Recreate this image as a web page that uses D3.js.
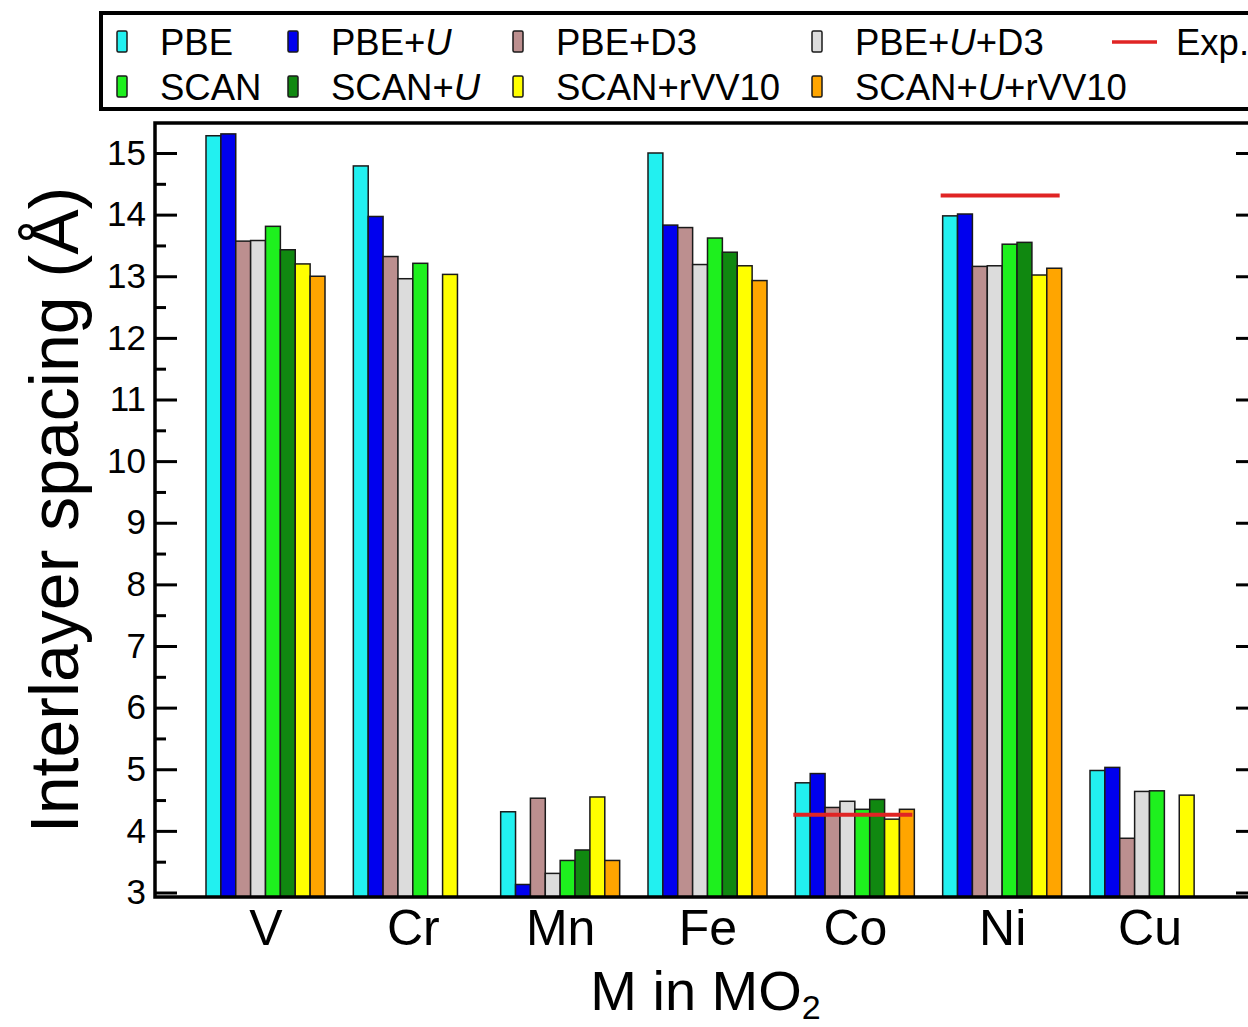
<!DOCTYPE html>
<html>
<head>
<meta charset="utf-8">
<script src="https://cdn.jsdelivr.net/npm/d3@7"></script>
<style>
  body { margin: 0; background: #fff; }
  svg { display: block; font-family: "Liberation Sans", Arial, Helvetica, sans-serif; }
</style>
</head>
<body>
<div id="chart"></div>
<script>
// categories and series (interlayer spacing, Angstrom)
var categories = ["V", "Cr", "Mn", "Fe", "Co", "Ni", "Cu"];
var seriesNames = ["PBE", "PBE+U", "PBE+D3", "PBE+U+D3", "SCAN", "SCAN+U", "SCAN+rVV10", "SCAN+U+rVV10"];
var pbe      = [15.28, 14.79, 4.31, 15.00, 4.78, 13.98, 4.98];
var pbeU     = [15.31, 13.97, 3.13, 13.83, 4.93, 14.01, 5.03];
var pbeD3    = [13.57, 13.32, 4.53, 13.79, 4.38, 13.16, 3.88];
var pbeUD3   = [13.58, 12.96, 3.31, 13.19, 4.48, 13.17, 4.64];
var scan     = [13.81, 13.21, 3.52, 13.62, 4.35, 13.52, 4.65];
var scanU    = [13.43, null, 3.69, 13.39, 4.51, 13.55, null];
var scanRvv  = [13.20, 13.03, 4.55, 13.17, 4.19, 13.02, 4.58];
var scanURvv = [13.00, null, 3.52, 12.93, 4.35, 13.13, null];
var expt     = [null, null, null, null, 4.26, 14.31, null];
var yTicks = [3, 4, 5, 6, 7, 8, 9, 10, 11, 12, 13, 14, 15];

var seriesValues = [pbe, pbeU, pbeD3, pbeUD3, scan, scanU, scanRvv, scanURvv];
var colors = ["#22f0f0", "#0000ee", "#bc8f8f", "#dcdcdc", "#1ef01e", "#108810", "#ffff00", "#ffa500"];

var W = 1248, H = 1027;
var plot = { left: 155, right: 1260, top: 123, bottom: 897 };

var svg = d3.select("#chart").append("svg")
    .attr("width", W)
    .attr("height", H);

var x = d3.scaleLinear().domain([-0.75, 6.75]).range([plot.left, plot.right]);
var y = d3.scaleLinear().domain([3, 15]).range([892.5, 153]);
var groupW = 119;
var inner = d3.scaleBand().domain(d3.range(seriesNames.length)).range([-groupW / 2, groupW / 2]);

// bars
var bars = [];
categories.forEach(function (c, i) {
  seriesValues.forEach(function (vals, j) {
    if (vals[i] != null) bars.push({ i: i, j: j, v: vals[i] });
  });
});

svg.append("g").selectAll("rect")
  .data(bars)
  .enter().append("rect")
    .attr("x", function (d) { return x(d.i) + inner(d.j); })
    .attr("y", function (d) { return y(d.v); })
    .attr("width", inner.bandwidth())
    .attr("height", function (d) { return plot.bottom - y(d.v); })
    .attr("fill", function (d) { return colors[d.j]; })
    .attr("stroke", "#1a1a1a")
    .attr("stroke-width", 1.5);

// experimental values
svg.append("g").selectAll("line")
  .data(expt.map(function (v, i) { return { i: i, v: v }; }).filter(function (d) { return d.v != null; }))
  .enter().append("line")
    .attr("x1", function (d) { return x(d.i) - groupW / 2 - 2; })
    .attr("x2", function (d) { return x(d.i) + groupW / 2 - 2; })
    .attr("y1", function (d) { return y(d.v); })
    .attr("y2", function (d) { return y(d.v); })
    .attr("stroke", "#e02424")
    .attr("stroke-width", 4);

// axes (ticks pointing inward)
var minor = yTicks.slice(0, -1).map(function (t) { return t + 0.5; });

var left = svg.append("g").attr("transform", "translate(" + plot.left + ",0)")
  .call(d3.axisLeft(y).tickValues(yTicks).tickSize(-22).tickPadding(9));
left.append("g").call(d3.axisLeft(y).tickValues(minor).tickSize(-11).tickFormat(""));

var right = svg.append("g").attr("transform", "translate(" + plot.right + ",0)")
  .call(d3.axisRight(y).tickValues(yTicks).tickSize(-24).tickFormat(""));
right.append("g").call(d3.axisRight(y).tickValues(minor).tickSize(-12).tickFormat(""));

svg.selectAll(".domain").remove();
svg.selectAll(".tick line").attr("stroke", "#000").attr("stroke-width", 3);
left.selectAll(".tick text")
  .attr("font-size", 35)
  .attr("font-family", "'Liberation Sans', Arial, sans-serif")
  .attr("fill", "#000");

var bottom = svg.append("g").attr("transform", "translate(0," + plot.bottom + ")")
  .call(d3.axisBottom(x).tickValues(d3.range(categories.length)).tickSize(0).tickPadding(12)
    .tickFormat(function (i) { return categories[i]; }));
bottom.select(".domain").remove();
bottom.selectAll(".tick text")
  .attr("font-size", 50)
  .attr("font-family", "'Liberation Sans', Arial, sans-serif")
  .attr("fill", "#000");

// frame
svg.append("rect")
  .attr("x", plot.left).attr("y", plot.top)
  .attr("width", plot.right - plot.left).attr("height", plot.bottom - plot.top)
  .attr("fill", "none").attr("stroke", "#000").attr("stroke-width", 3.5);

// axis titles
var xt = svg.append("text")
  .attr("x", (plot.left + plot.right) / 2 - 2)
  .attr("y", 1010)
  .attr("text-anchor", "middle")
  .attr("font-size", 56);
xt.append("tspan").text("M in MO");
xt.append("tspan").attr("font-size", 34).attr("dy", 9).text("2");

svg.append("text")
  .attr("transform", "translate(78," + ((plot.top + plot.bottom) / 2) + ") rotate(-90)")
  .attr("text-anchor", "middle")
  .attr("font-size", 68)
  .text("Interlayer spacing (Å)");

// legend
var legend = svg.append("g");
legend.append("rect")
  .attr("x", 101).attr("y", 13).attr("width", 1200).attr("height", 96)
  .attr("fill", "#fff").attr("stroke", "#000").attr("stroke-width", 4);

var colX = [117, 288, 513, 812];
var rowY = [42, 87];
var labelParts = [
  [["PBE"]], [["PBE+"], ["U", true]], [["PBE+D3"]], [["PBE+"], ["U", true], ["+D3"]],
  [["SCAN"]], [["SCAN+"], ["U", true]], [["SCAN+rVV10"]], [["SCAN+"], ["U", true], ["+rVV10"]]
];

seriesNames.forEach(function (name, j) {
  var cx = colX[j % 4], cy = rowY[Math.floor(j / 4)];
  var g = legend.append("g");
  g.append("rect")
    .attr("x", cx).attr("y", cy - 11).attr("width", 10).attr("height", 21)
    .attr("rx", 1.5)
    .attr("fill", colors[j]).attr("stroke", "#1a1a1a").attr("stroke-width", 1.5);
  var t = g.append("text")
    .attr("x", cx + 43).attr("y", cy + 13)
    .attr("font-size", 36.5);
  labelParts[j].forEach(function (p) {
    t.append("tspan").attr("font-style", p[1] ? "italic" : null).text(p[0]);
  });
});

legend.append("line")
  .attr("x1", 1112).attr("x2", 1157).attr("y1", 42).attr("y2", 42)
  .attr("stroke", "#e02424").attr("stroke-width", 3.5);
legend.append("text")
  .attr("x", 1176).attr("y", 55)
  .attr("font-size", 36.5)
  .text("Exp.");
</script>
</body>
</html>
